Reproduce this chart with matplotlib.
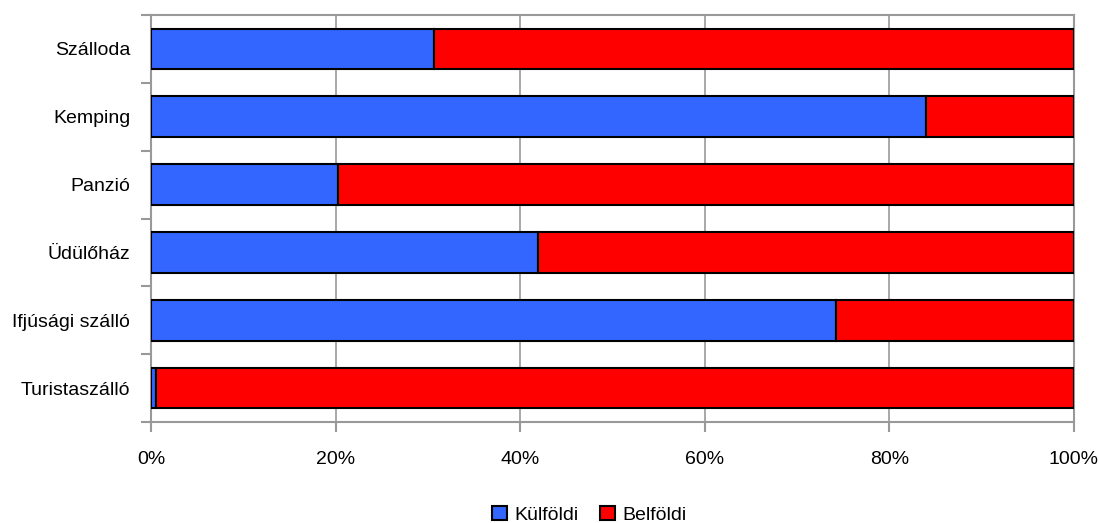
import numpy as np
import matplotlib.pyplot as plt
from matplotlib.ticker import FuncFormatter, FixedLocator

plt.rcParams['font.family'] = ['Liberation Sans', 'DejaVu Sans']

categories = ['Szálloda', 'Kemping', 'Panzió', 'Üdülőház', 'Ifjúsági szálló', 'Turistaszálló']
kulfoldi = [30.7, 84.0, 20.3, 41.9, 74.2, 0.5]
belfoldi = [100 - v for v in kulfoldi]
xticks = [0, 20, 40, 60, 80, 100]

fig = plt.figure(figsize=(11, 5.23), dpi=100)
ax = fig.add_axes([151 / 1100, 1 - 422 / 523, (1074 - 151) / 1100, (422 - 15) / 523])

y = np.arange(len(categories))[::-1]
ax.barh(y, kulfoldi, height=0.6, color='#3366ff', edgecolor='black', linewidth=1.5,
        label='Külföldi', zorder=3)
ax.barh(y, belfoldi, left=kulfoldi, height=0.6, color='#ff0000', edgecolor='black',
        linewidth=1.5, label='Belföldi', zorder=3)

ax.set_xlim(0, 100)
ax.set_ylim(-0.5, len(categories) - 0.5)
ax.set_xticks(xticks)
ax.xaxis.set_major_formatter(FuncFormatter(lambda v, p: f'{v:.0f}%'))
ax.set_yticks(y)
ax.set_yticklabels(categories)
ax.yaxis.set_minor_locator(FixedLocator(np.arange(-0.5, len(categories), 1)))
ax.tick_params(axis='y', which='major', length=0, pad=15, labelsize=14)
ax.tick_params(axis='y', which='minor', length=7, width=1.5, color='#999999')
ax.tick_params(axis='x', length=7, width=1.5, color='#999999', pad=14, labelsize=14)

ax.grid(axis='x', color='#999999', linewidth=1.2, zorder=0)
for s in ax.spines.values():
    s.set_color('#999999')
    s.set_linewidth(1.5)

ax.legend(loc='lower center', bbox_to_anchor=(0.475, -0.27), ncol=2, frameon=False,
          fontsize=14, handlelength=0.75, handleheight=0.75, handletextpad=0.4,
          columnspacing=1.1, borderaxespad=0)

fig.savefig('out.png', dpi=100)
